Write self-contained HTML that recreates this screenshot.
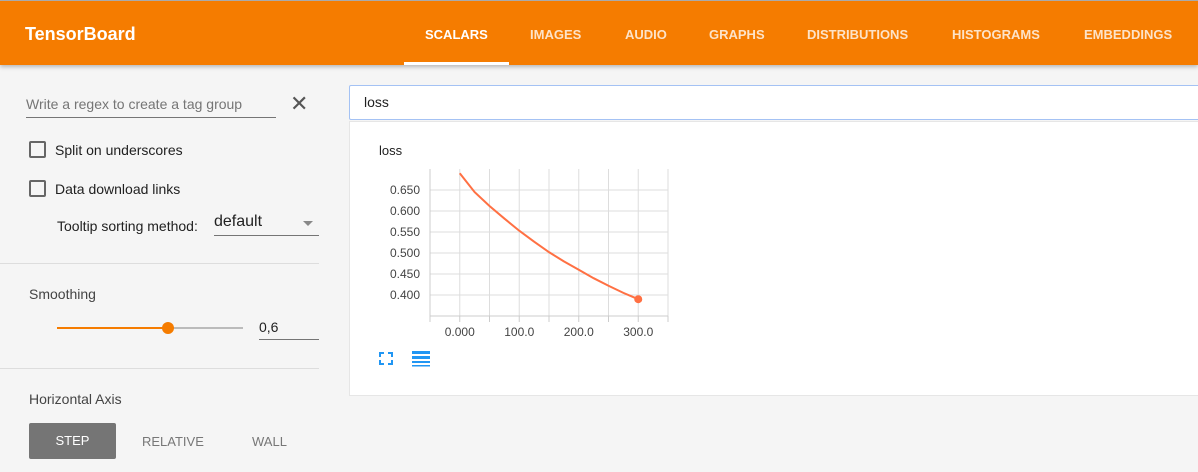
<!DOCTYPE html>
<html><head><meta charset="utf-8">
<style>
*{box-sizing:border-box;margin:0;padding:0}
body{width:1198px;height:472px;overflow:hidden;background:#f5f5f5;font-family:"Liberation Sans",Arial,sans-serif;position:relative}
.abs{position:absolute}
#hdr{left:0;top:0;width:1198px;height:65px;background:#f57c00;border-top:1px solid #aaa;box-shadow:0 2px 4px rgba(0,0,0,.25)}
.tab{position:absolute;top:26px;font-size:13px;font-weight:bold;color:#fde3c8}
.lbl{font-size:14px;color:#212121}
.cb{width:17px;height:17px;border:2px solid #666;border-radius:2px}
</style></head><body>
<div id="hdr" class="abs">
 <div class="abs" style="left:25px;top:23px;font-size:18px;font-weight:bold;color:#fff">TensorBoard</div>
 <div class="tab" style="left:425px;color:#fff">SCALARS</div>
 <div class="abs" style="left:404px;top:61px;width:105px;height:3px;background:#fff"></div>
 <div class="tab" style="left:530px">IMAGES</div>
 <div class="tab" style="left:625px">AUDIO</div>
 <div class="tab" style="left:709px">GRAPHS</div>
 <div class="tab" style="left:807px">DISTRIBUTIONS</div>
 <div class="tab" style="left:952px">HISTOGRAMS</div>
 <div class="tab" style="left:1084px">EMBEDDINGS</div>
</div>

<div class="abs" style="left:26px;top:96px;width:250px;height:22px;border-bottom:1px solid #757575;font-size:14px;color:#757575">Write a regex to create a tag group</div>
<div class="abs" style="left:290px;top:92px;font-size:22px;color:#555;line-height:24px">✕</div>

<div class="abs cb" style="left:29px;top:141px"></div>
<div class="abs lbl" style="left:55px;top:142px">Split on underscores</div>
<div class="abs cb" style="left:29px;top:180px"></div>
<div class="abs lbl" style="left:55px;top:181px">Data download links</div>
<div class="abs lbl" style="left:57px;top:218px">Tooltip sorting method:</div>
<div class="abs" style="left:214px;top:213px;width:105px;height:23px;border-bottom:1px solid #757575;font-size:16px;color:#212121">default<span class="abs" style="right:6px;top:8px;width:0;height:0;border-left:5px solid transparent;border-right:5px solid transparent;border-top:5px solid #888"></span></div>

<div class="abs" style="left:0;top:263px;width:319px;height:1px;background:#ddd"></div>
<div class="abs lbl" style="left:29px;top:286px;color:#444">Smoothing</div>
<div class="abs" style="left:57px;top:327px;width:186px;height:2px;background:#bbb"></div>
<div class="abs" style="left:57px;top:327px;width:111px;height:2px;background:#f57c00"></div>
<div class="abs" style="left:162px;top:322px;width:12px;height:12px;border-radius:50%;background:#f57c00"></div>
<div class="abs" style="left:259px;top:319px;width:60px;height:21px;border-bottom:1px solid #757575;font-size:14px;color:#212121">0,6</div>
<div class="abs" style="left:0;top:368px;width:319px;height:1px;background:#ddd"></div>
<div class="abs lbl" style="left:29px;top:391px;color:#444">Horizontal Axis</div>
<div class="abs" style="left:29px;top:423px;width:87px;height:36px;background:#757575;border-radius:2px;color:#fff;font-size:13px;text-align:center;line-height:36px">STEP</div>
<div class="abs" style="left:142px;top:434px;font-size:13px;color:#777">RELATIVE</div>
<div class="abs" style="left:252px;top:434px;font-size:13px;color:#777">WALL</div>

<div class="abs" style="left:349px;top:85px;width:860px;height:35px;background:#fff;border:1px solid #a4c2f4;border-radius:2px;font-size:14px;color:#212121;padding:8px 0 0 14px">loss</div>
<div class="abs" style="left:349px;top:121px;width:860px;height:275px;background:#fff;border:1px solid #e6e6e6"></div>
<div class="abs" style="left:379px;top:143px;font-size:13px;color:#212121">loss</div>

<svg class="abs" style="left:0;top:0" width="1198" height="472">
 <g id="grid"></g><g id="axes"></g><g id="series"></g>
 <g fill="#2196f3">
  <rect x="379" y="352" width="5" height="2"/><rect x="379" y="352" width="2" height="5"/>
  <rect x="388" y="352" width="5" height="2"/><rect x="391" y="352" width="2" height="5"/>
  <rect x="379" y="363" width="5" height="2"/><rect x="379" y="360" width="2" height="5"/>
  <rect x="388" y="363" width="5" height="2"/><rect x="391" y="360" width="2" height="5"/>
 </g>
 <g fill="#2196f3">
  <rect x="412" y="351" width="18" height="3"/><rect x="412" y="356" width="18" height="3"/>
  <rect x="412" y="361" width="18" height="2"/><rect x="412" y="365" width="18" height="1.5"/>
 </g>
</svg>
<script>
const steps=[0,25,50,75,100,125,150,175,200,225,250,275,300];
const loss=[0.690,0.645,0.612,0.582,0.553,0.527,0.502,0.480,0.460,0.440,0.422,0.405,0.390];
const yTicks=[0.40,0.45,0.50,0.55,0.60,0.65];
const yTickLabels=["0.400","0.450","0.500","0.550","0.600","0.650"];
const xTicks=[0,100,200,300];
const xTickLabels=["0.000","100.0","200.0","300.0"];
const xGrid=[-50,0,50,100,150,200,250,300,350];
const X0=430,X1=668,Y0=316,Y1=169,xMin=-50,xMax=350,yMin=0.35,yMax=0.70;
const sx=v=>X0+(v-xMin)/(xMax-xMin)*(X1-X0);
const sy=v=>Y0-(v-yMin)/(yMax-yMin)*(Y0-Y1);
const NS="http://www.w3.org/2000/svg";
function mk(tag,attrs,parent){const e=document.createElementNS(NS,tag);for(const k in attrs)e.setAttribute(k,attrs[k]);document.getElementById(parent).appendChild(e);return e;}
xGrid.forEach(v=>{const l=mk('line',{x1:sx(v),x2:sx(v),y1:Y1,y2:Y0,stroke:'#ddd','stroke-width':1},'grid');


const t=mk('line',{x1:sx(v),x2:sx(v),y1:Y0,y2:Y0+6,stroke:'#ccc'},'axes');

});
yTicks.forEach((v,i)=>{const l=mk('line',{x1:X0,x2:X1,y1:sy(v),y2:sy(v),stroke:'#ddd'},'grid');


const t=mk('text',{x:X0-10,y:sy(v)+4,'text-anchor':'end','font-size':12,fill:'#444','font-family':'Liberation Sans, sans-serif'},'axes');
t.textContent=yTickLabels[i];

});
xTicks.forEach((v,i)=>{const t=mk('text',{x:sx(v),y:Y0+20,'text-anchor':'middle','font-size':12,fill:'#444','font-family':'Liberation Sans, sans-serif'},'axes');
t.textContent=xTickLabels[i];

});
const ax=mk('line',{x1:X0,x2:X1,y1:Y0,y2:Y0,stroke:'#ccc'},'axes');


const ay=mk('line',{x1:X0,x2:X0,y1:Y1,y2:Y0,stroke:'#ccc'},'axes');


const p=mk('polyline',{points:steps.map((s,i)=>sx(s)+','+sy(loss[i])).join(' '),fill:'none',stroke:'#ff7043','stroke-width':2},'series');


const n=steps.length-1;
const c=mk('circle',{cx:sx(steps[n]),cy:sy(loss[n]),r:4,fill:'#ff7043'},'series');


</script>
</body></html>
